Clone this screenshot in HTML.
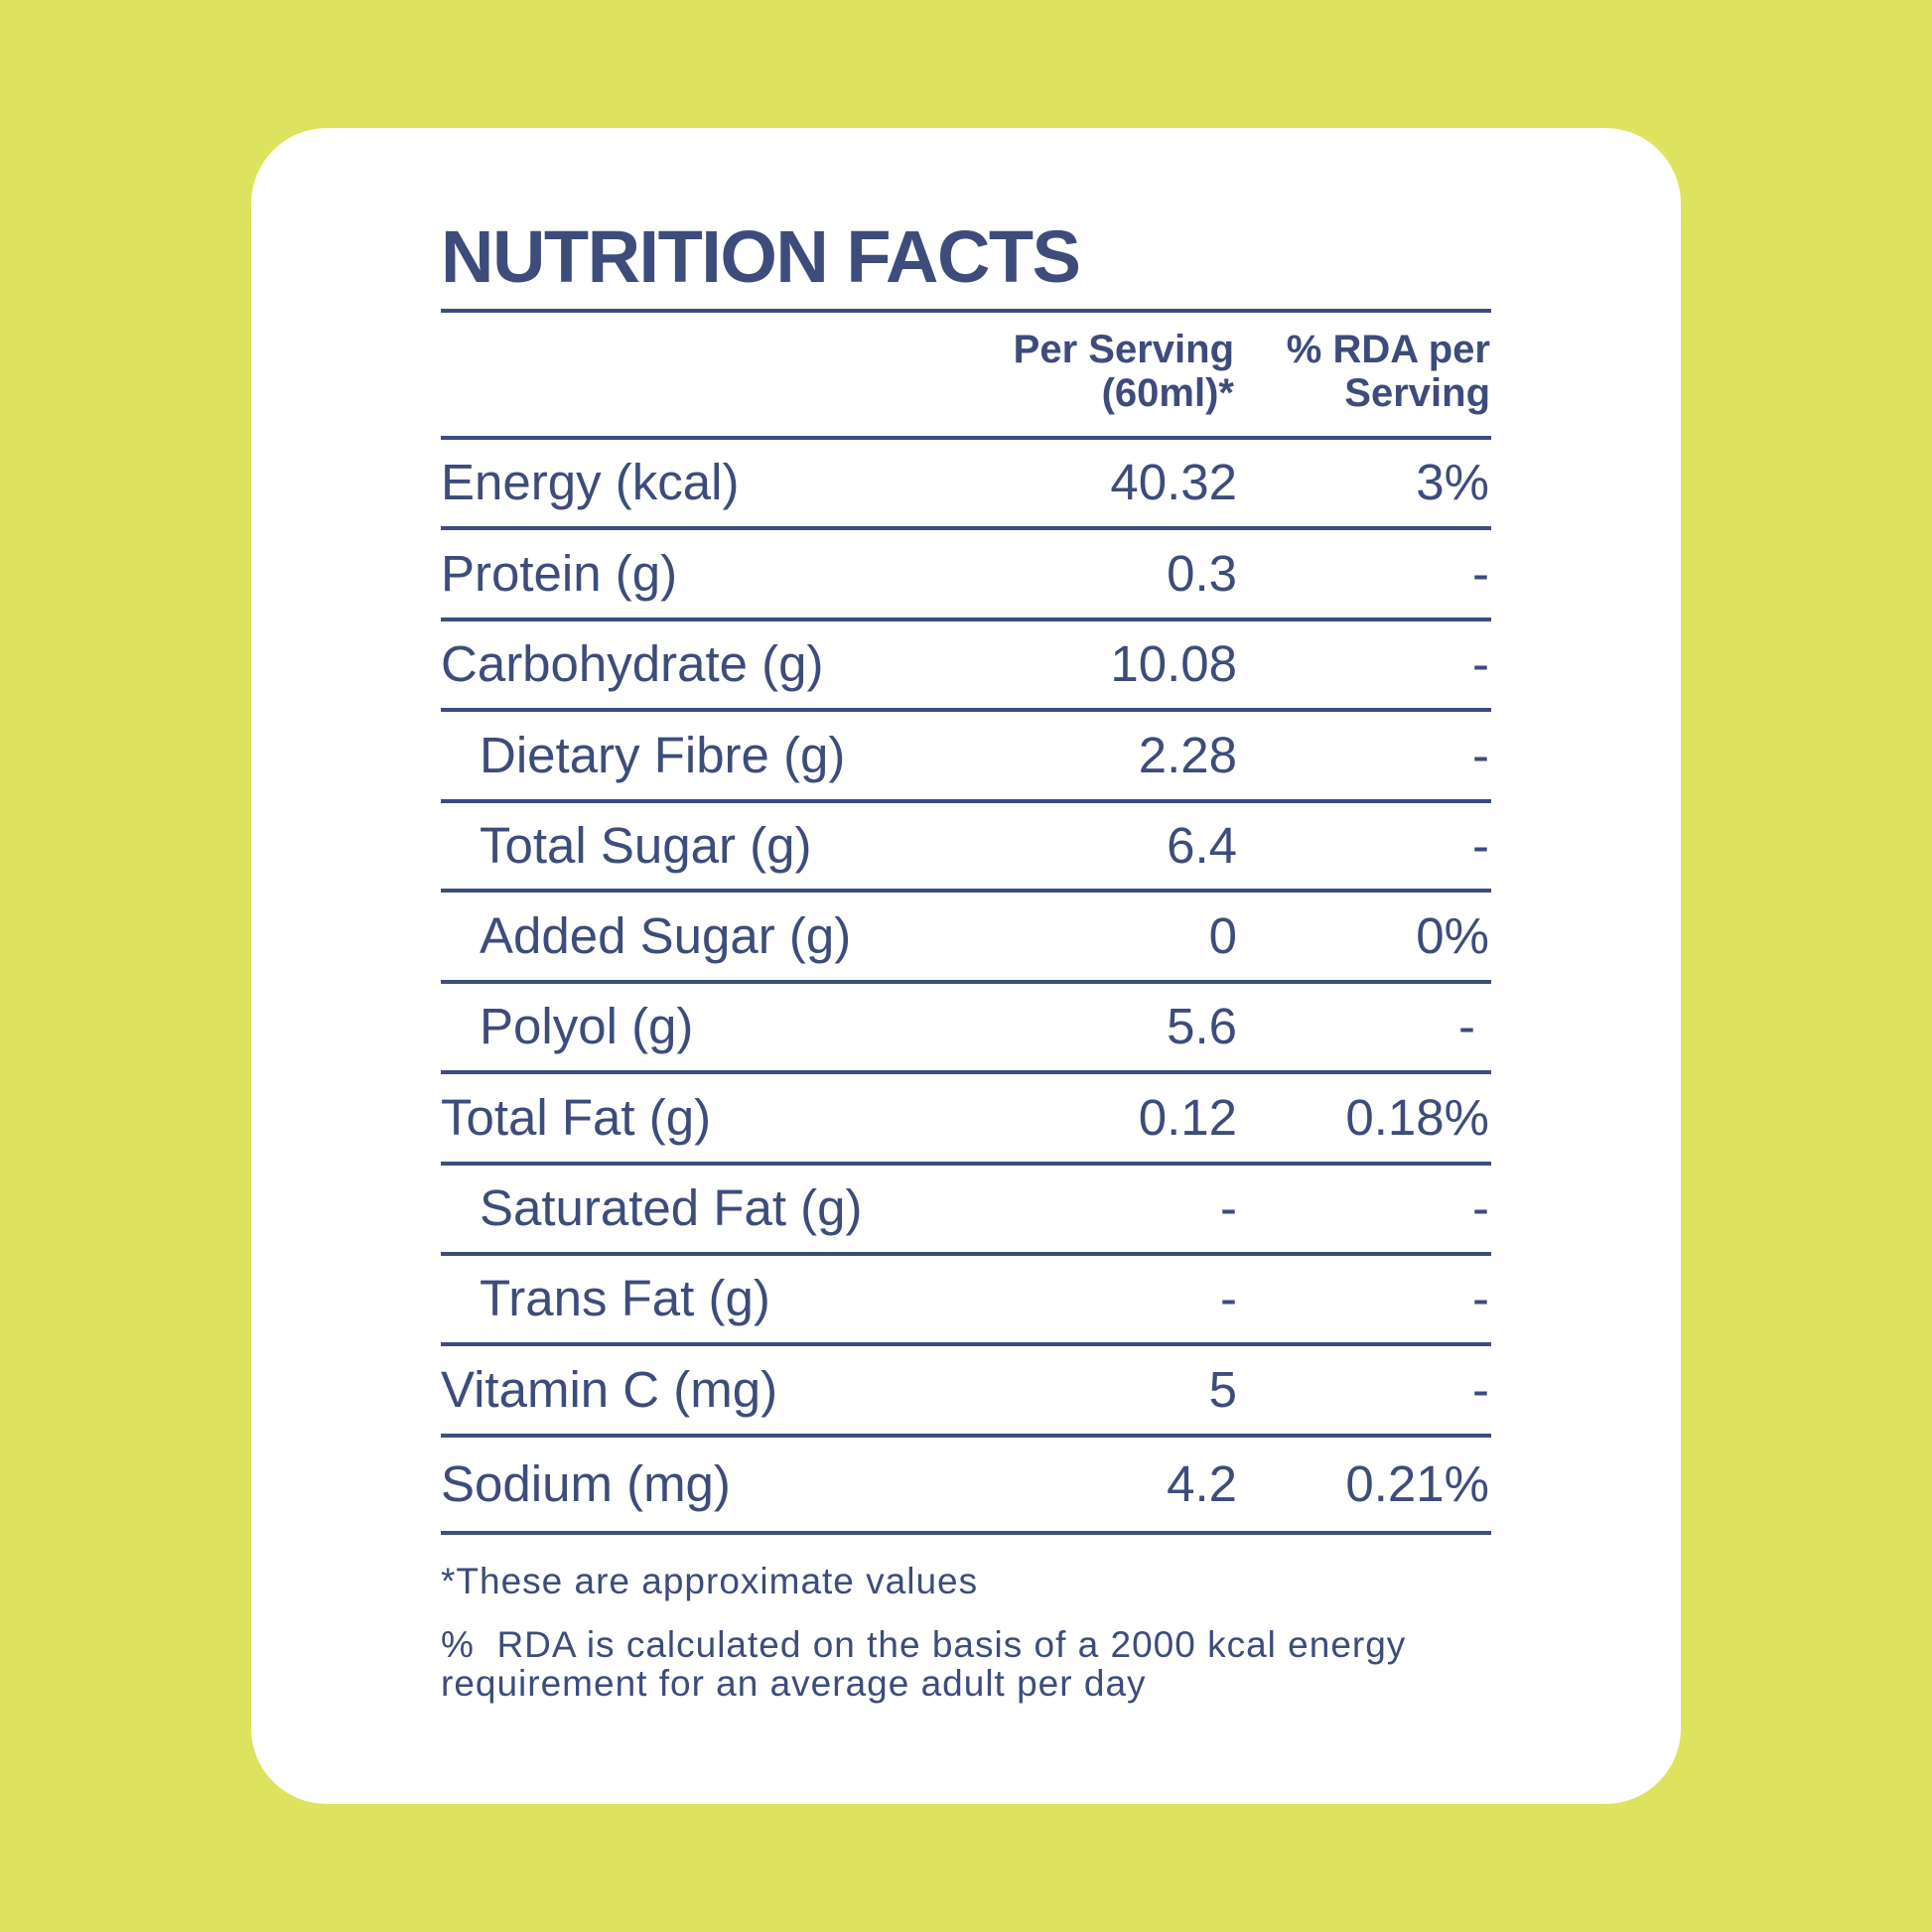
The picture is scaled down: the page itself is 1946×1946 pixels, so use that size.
<!DOCTYPE html>
<html><head><meta charset="utf-8"><style>
html,body{margin:0;padding:0}
body{width:1946px;height:1946px;background:#dde35e;position:relative;overflow:hidden;font-family:"Liberation Sans",sans-serif;color:#3d4c7b}
.card{position:absolute;left:253px;top:129px;width:1440px;height:1688px;background:#fff;border-radius:76px}
.t{position:absolute;left:444px;top:214px;font-size:74px;font-weight:bold;letter-spacing:-1.5px;line-height:90px}
.ln{position:absolute;left:444px;width:1058px;height:4px;background:#3d4c7b}
.row{position:absolute;left:444px;width:1058px;display:flex;align-items:center;font-size:51px}
.row .n{flex:1}
.row .v{width:300px;text-align:right;position:absolute;right:256px}
.row .r{position:absolute;right:2px;text-align:right}
.in .n{padding-left:39px}
.hd{position:absolute;font-size:40px;font-weight:bold;line-height:44px;text-align:right}
.fn{position:absolute;left:444px;font-size:37px;letter-spacing:1px;line-height:39px}
</style></head><body>
<div class="card"></div>
<div class="t">NUTRITION FACTS</div>
<div class="ln" style="top:311px"></div>
<div class="hd" style="right:703px;top:330px">Per Serving<br>(60ml)*</div>
<div class="hd" style="right:445px;top:330px">% RDA per<br>Serving</div>
<div class="ln" style="top:439px"></div>
<div class="row" style="top:441px;height:89px"><span class="n">Energy (kcal)</span><span class="v">40.32</span><span class="r">3%</span></div>
<div class="ln" style="top:530px"></div>
<div class="row" style="top:532px;height:90px"><span class="n">Protein (g)</span><span class="v">0.3</span><span class="r">-</span></div>
<div class="ln" style="top:622px"></div>
<div class="row" style="top:624px;height:89px"><span class="n">Carbohydrate (g)</span><span class="v">10.08</span><span class="r">-</span></div>
<div class="ln" style="top:713px"></div>
<div class="row in" style="top:715px;height:90px"><span class="n">Dietary Fibre (g)</span><span class="v">2.28</span><span class="r">-</span></div>
<div class="ln" style="top:805px"></div>
<div class="row in" style="top:807px;height:88px"><span class="n">Total Sugar (g)</span><span class="v">6.4</span><span class="r">-</span></div>
<div class="ln" style="top:895px"></div>
<div class="row in" style="top:897px;height:90px"><span class="n">Added Sugar (g)</span><span class="v">0</span><span class="r">0%</span></div>
<div class="ln" style="top:987px"></div>
<div class="row in" style="top:989px;height:89px"><span class="n">Polyol (g)</span><span class="v">5.6</span><span class="r" style="right:16px">-</span></div>
<div class="ln" style="top:1078px"></div>
<div class="row" style="top:1080px;height:90px"><span class="n">Total Fat (g)</span><span class="v">0.12</span><span class="r">0.18%</span></div>
<div class="ln" style="top:1170px"></div>
<div class="row in" style="top:1172px;height:89px"><span class="n">Saturated Fat (g)</span><span class="v">-</span><span class="r">-</span></div>
<div class="ln" style="top:1261px"></div>
<div class="row in" style="top:1263px;height:89px"><span class="n">Trans Fat (g)</span><span class="v">-</span><span class="r">-</span></div>
<div class="ln" style="top:1352px"></div>
<div class="row" style="top:1354px;height:90px"><span class="n">Vitamin C (mg)</span><span class="v">5</span><span class="r">-</span></div>
<div class="ln" style="top:1444px"></div>
<div class="row" style="top:1446px;height:96px"><span class="n">Sodium (mg)</span><span class="v">4.2</span><span class="r">0.21%</span></div>
<div class="ln" style="top:1542px"></div>
<div class="fn" style="top:1573px">*These are approximate values</div>
<div class="fn" style="top:1637px">%&nbsp; RDA is calculated on the basis of a 2000 kcal energy<br>requirement for an average adult per day</div>
</body></html>
